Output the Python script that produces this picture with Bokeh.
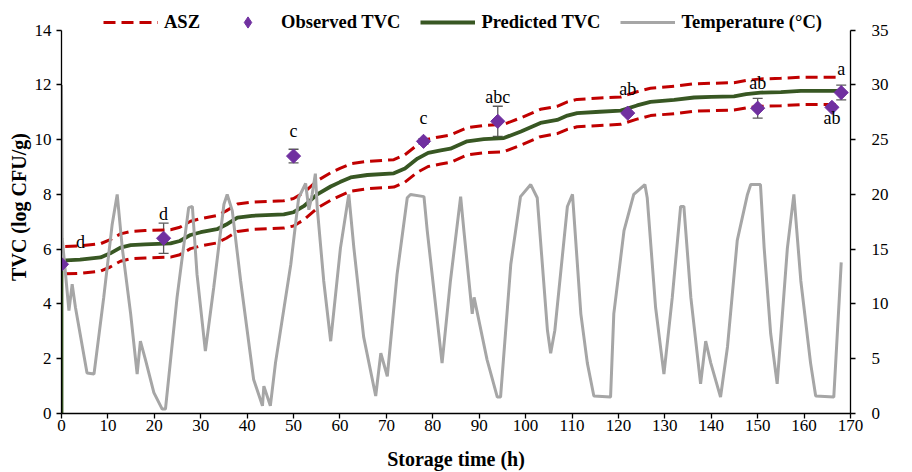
import numpy as np
from bokeh.plotting import figure
from bokeh.models import (Range1d, LinearAxis, Legend, LegendItem, Whisker, Label,
                          ColumnDataSource, FixedTicker, TeeHead)
from bokeh.core.properties import value
from bokeh.embed import file_html
from bokeh.resources import INLINE

# ---------------- data ----------------
obs_time = [0, 22, 50, 78, 94, 122, 150, 166, 168]
obs_tvc = [5.45, 6.40, 9.40, 9.94, 10.67, 10.97, 11.15, 11.18, 11.72]
obs_err = [0.06, 0.55, 0.25, 0.10, 0.55, 0.06, 0.36, 0.05, 0.27]
obs_letters = ["d", "d", "c", "c", "abc", "ab", "ab", "ab", "a"]

pred_time = [0, 0, 4, 8.4, 10.5, 12.7, 14.9, 18, 23.5, 25.5, 27.8, 30, 33.5, 35.5,
             37.9, 41, 47.9, 50, 52.2, 55.1, 58, 60, 62.3, 65.9, 71.6, 74, 76.7, 79,
             81.7, 83.8, 87.4, 91, 95.3, 99, 103.2, 106.8, 109, 111.1, 116, 120.5,
             124, 126.9, 132, 136.3, 140, 144.9, 147.5, 150.6, 155, 159.3, 168]
pred_tvc = [0, 5.58, 5.62, 5.70, 5.85, 6.06, 6.15, 6.18, 6.21, 6.30, 6.52, 6.62, 6.73,
            6.90, 7.15, 7.22, 7.27, 7.35, 7.57, 8.00, 8.29, 8.45, 8.62, 8.71, 8.77,
            8.95, 9.31, 9.52, 9.61, 9.67, 9.94, 10.02, 10.06, 10.30, 10.61, 10.72,
            10.88, 10.97, 11.02, 11.06, 11.25, 11.38, 11.45, 11.54, 11.56, 11.58,
            11.66, 11.72, 11.74, 11.78, 11.78]

asz_time = [0.8, 4, 8.4, 10.5, 12.7, 14.9, 18, 23.5, 25.5, 27.8, 30, 33.5, 35.5,
            37.9, 41, 47.9, 50, 52.2, 55.1, 58, 60, 62.3, 65.9, 71.6, 74, 76.7, 79,
            81.7, 83.8, 87.4, 91, 95.3, 99, 103.2, 106.8, 109, 111.1, 116, 120.5,
            124, 126.9, 132, 136.3, 140, 144.9, 147.5, 150.6, 155, 159.3, 168]
asz_upper = [6.10, 6.12, 6.20, 6.35, 6.56, 6.65, 6.68, 6.71, 6.80, 7.02, 7.12, 7.23,
             7.40, 7.65, 7.72, 7.77, 7.85, 8.07, 8.50, 8.79, 8.95, 9.12, 9.21, 9.27,
             9.45, 9.81, 10.02, 10.11, 10.17, 10.44, 10.52, 10.56, 10.80, 11.11,
             11.22, 11.38, 11.47, 11.52, 11.56, 11.75, 11.88, 11.95, 12.04, 12.06,
             12.08, 12.16, 12.22, 12.24, 12.28, 12.28]
asz_lower = [5.10, 5.12, 5.20, 5.35, 5.56, 5.65, 5.68, 5.71, 5.80, 6.02, 6.12, 6.23,
             6.40, 6.65, 6.72, 6.77, 6.85, 7.07, 7.50, 7.79, 7.95, 8.12, 8.21, 8.27,
             8.45, 8.81, 9.02, 9.11, 9.17, 9.44, 9.52, 9.56, 9.80, 10.11, 10.22,
             10.38, 10.47, 10.52, 10.56, 10.75, 10.88, 10.95, 11.04, 11.06, 11.08,
             11.16, 11.22, 11.24, 11.28, 11.28]

temp_points = [
    (0.0, 30.0), (0.15, 16.0), (1.6, 9.4), (2.3, 11.8), (3.0, 9.7), (5.5, 3.7),
    (7.0, 3.6), (9.1, 10.6), (10.9, 17.2), (12.0, 20.0), (13.1, 15.1), (14.9, 9.1),
    (16.3, 3.6), (17.0, 6.6), (18.1, 4.9), (19.9, 1.9), (21.7, 0.4), (22.4, 0.4),
    (24.9, 10.6), (27.4, 18.8), (28.2, 18.9), (29.2, 12.7), (31.0, 5.7), (32.8, 11.5),
    (35.0, 19.1), (35.7, 20.0), (36.8, 18.5), (38.6, 12.1), (41.4, 3.1), (43.3, 0.7),
    (43.6, 2.5), (45.0, 0.7), (46.1, 4.6), (49.4, 13.6), (51.1, 19.7), (52.6, 21.0),
    (53.3, 18.6), (54.0, 20.0), (54.7, 21.9), (55.1, 18.8), (56.5, 12.1), (58.0, 6.6),
    (60.1, 15.1), (61.9, 20.0), (63.0, 15.1), (65.1, 7.0), (67.7, 1.6), (68.8, 5.5),
    (70.2, 3.4), (72.3, 12.7), (74.5, 19.7), (75.2, 20.0), (78.1, 19.8), (78.8, 16.7),
    (82.0, 4.6), (83.8, 12.1), (86.0, 19.8), (86.7, 16.7), (88.5, 9.1), (88.9, 10.6),
    (91.7, 4.9), (93.9, 1.5), (94.6, 1.5), (96.8, 13.6), (98.9, 19.8), (101.1, 20.9),
    (102.5, 19.7), (104.7, 7.6), (105.4, 5.5), (106.3, 7.6), (109.0, 18.9), (110.1, 20.0),
    (111.9, 9.1), (113.3, 4.6), (114.7, 1.6), (118.3, 1.5), (119.0, 9.1), (121.2, 16.7),
    (123.3, 20.0), (125.7, 20.9), (126.2, 19.7), (128.0, 9.7), (129.8, 3.6), (131.6, 10.6),
    (133.4, 18.9), (134.1, 18.9), (135.6, 10.6), (137.7, 2.7), (138.8, 6.6), (139.9, 4.6),
    (142.0, 1.5), (143.5, 6.1), (145.6, 15.8), (147.8, 20.0), (148.5, 20.9), (150.6, 20.9),
    (151.4, 15.1), (152.8, 7.3), (154.2, 2.7), (156.4, 15.1), (157.8, 20.0), (159.3, 12.1),
    (161.4, 4.6), (162.5, 1.6), (166.4, 1.5), (167.2, 7.6), (167.6, 10.6), (168.0, 13.8)]

x_ticks = [0, 10, 20, 30, 40, 50, 60, 70, 80, 90, 100, 110, 120, 130, 140, 150, 160, 170]
y_ticks = [0, 2, 4, 6, 8, 10, 12, 14]
t_ticks = [0, 5, 10, 15, 20, 25, 30, 35]

# ---------------- styling / layout ----------------
FONT = "Liberation Serif"
RED = "#C00000"
GREEN = "#385723"
PURPLE = "#7030A0"
GREY = "#A6A6A6"

W, H = 912, 472
LEFT, RIGHT, BOTTOM = 61, 62, 54
AXIS_TOP_PX = 30                  # pixel row where 14 / 35 sit
frame_h = H - BOTTOM              # frame starts at canvas top (room for legend)
y_top = 14 * frame_h / (frame_h - AXIS_TOP_PX)
t_top = y_top * 35 / 14

# letter offsets in screen px (dx, dy)
lab_dx = [19, 0, 0, 0, 0, 0, 0, 0, 0]
lab_dy = [-22, -24, -25, -23, -24, -24, -25, 11, -24]

p = figure(width=W, height=H, x_range=Range1d(0, 170), y_range=Range1d(0, y_top),
           output_backend="svg", toolbar_location=None,
           min_border_left=LEFT, min_border_right=RIGHT, min_border_top=0,
           min_border_bottom=BOTTOM)
p.extra_y_ranges = {"temp": Range1d(0, t_top)}
p.xgrid.visible = False
p.ygrid.visible = False
p.outline_line_color = None
p.background_fill_color = "white"
p.border_fill_color = "white"

r_up = p.line(asz_time, asz_upper, line_color=RED, line_width=3, line_dash="12 6")
r_lo = p.line(asz_time, asz_lower, line_color=RED, line_width=3, line_dash="12 6")
r_pred = p.line(pred_time, pred_tvc, line_color=GREEN, line_width=3.8, line_join="round")

tt = [a for a, b in temp_points]
tv = [b for a, b in temp_points]
r_temp = p.line(tt, tv, line_color=GREY, line_width=3, y_range_name="temp")

src = ColumnDataSource(dict(t=obs_time, y=obs_tvc,
                            up=[a + b for a, b in zip(obs_tvc, obs_err)],
                            lo=[a - b for a, b in zip(obs_tvc, obs_err)],
                            lab=obs_letters, dx=lab_dx, dy=lab_dy))
wh = Whisker(source=src, base="t", upper="up", lower="lo", line_color="#595959", line_width=1.3,
             upper_head=TeeHead(size=10, line_color="#595959", line_width=1.3),
             lower_head=TeeHead(size=10, line_color="#595959", line_width=1.3))
p.add_layout(wh)
# upright diamonds used for the legend sample; hidden under the rotated squares below
r_obs_leg = p.scatter("t", "y", source=src, marker="diamond", size=11,
                      fill_color=PURPLE, line_color=PURPLE)
r_obs = p.scatter("t", "y", source=src, marker="square", angle=np.pi / 4, size=10,
                  fill_color=PURPLE, line_color=PURPLE)
p.text("t", "y", text="lab", source=src, x_offset="dx", y_offset="dy",
       text_font=value(FONT), text_font_size="18px", text_align="center",
       text_baseline="middle", text_color="black")

# axes
p.xaxis.ticker = FixedTicker(ticks=x_ticks)
p.yaxis.ticker = FixedTicker(ticks=y_ticks)
p.yaxis.bounds = (0, 14)
p.xaxis.axis_label = "Storage time (h)"
p.yaxis.axis_label = "TVC (log CFU/g)"
rax = LinearAxis(y_range_name="temp", ticker=FixedTicker(ticks=t_ticks), bounds=(0, 35))
p.add_layout(rax, "right")

for ax in [p.xaxis[0], p.yaxis[0], rax]:
    ax.axis_line_color = "black"
    ax.axis_line_width = 1.3
    ax.major_tick_line_color = "black"
    ax.major_tick_line_width = 1.3
    ax.major_tick_out = 5
    ax.major_tick_in = 0
    ax.minor_tick_line_color = None
    ax.major_label_text_font = FONT
    ax.major_label_text_font_size = "17px"
    ax.major_label_text_color = "black"
    ax.axis_label_text_font = FONT
    ax.axis_label_text_font_style = "bold"
    ax.axis_label_text_font_size = "20px"
    ax.axis_label_text_color = "black"
p.xaxis.major_label_standoff = 1
p.xaxis.axis_label_standoff = 14
p.yaxis.major_label_standoff = 5
p.yaxis.axis_label_standoff = 2
rax.major_label_standoff = 16

# right axis title, reading bottom-to-top
p.add_layout(Label(x=170, y=7, x_offset=52, text="Temperature (°C)", angle=np.pi / 2,
                   text_font=FONT, text_font_style="bold", text_font_size="20px",
                   text_align="center", text_baseline="middle", text_color="black"))

legend = Legend(items=[LegendItem(label="ASZ", renderers=[r_up]),
                       LegendItem(label="Observed TVC", renderers=[r_obs_leg]),
                       LegendItem(label="Predicted TVC", renderers=[r_pred]),
                       LegendItem(label="Temperature (°C)", renderers=[r_temp])],
                orientation="horizontal", location=(42, frame_h - 41),
                label_text_font=FONT, label_text_font_style="bold",
                label_text_font_size="18.5px", label_text_color="black",
                glyph_width=55, glyph_height=28,
                label_height=16, label_standoff=6, spacing=20, padding=0, margin=0,
                border_line_color=None, background_fill_alpha=0)
p.add_layout(legend, "center")

open("out.html", "w").write(file_html(p, INLINE))
